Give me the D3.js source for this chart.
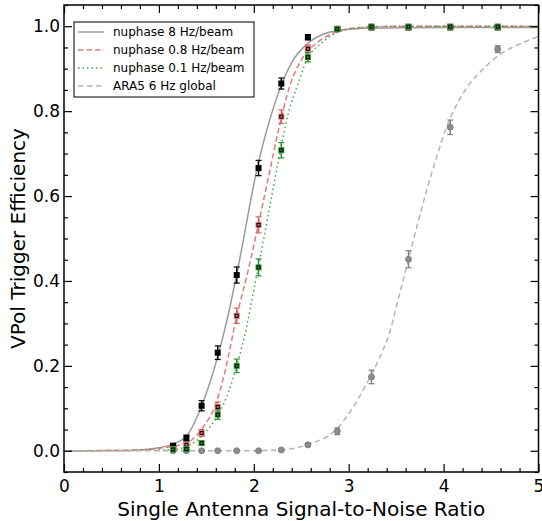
<!DOCTYPE html>
<html>
<head>
<meta charset="utf-8">
<script src="https://cdn.jsdelivr.net/npm/d3@7"></script>
<style>
    body { margin: 0; background: #fff; }
    svg { display: block; font-family: "DejaVu Sans", sans-serif; }
</style>
</head>
<body>
<svg id="chart" width="542" height="521"></svg>
<script>
// measured points (same SNR bins for every series)
var snr = [1.15, 1.29, 1.45, 1.62, 1.82, 2.05, 2.29, 2.57, 2.88, 3.24, 3.63, 4.07, 4.57];

var eff8Hz = [0.012, 0.03, 0.106, 0.231, 0.414, 0.666, 0.865, 0.974, 0.994, 0.997, 0.997, 0.997, 0.997];
var err8Hz = [0.004, 0.007, 0.012, 0.016, 0.019, 0.018, 0.013, 0.006, 0.003, 0.002, 0.002, 0.002, 0.002];

var eff08Hz = [0.004, 0.014, 0.042, 0.103, 0.318, 0.532, 0.787, 0.947, 0.993, 0.999, 0.999, 0.999, 0.999];
var err08Hz = [0.003, 0.005, 0.008, 0.012, 0.018, 0.019, 0.016, 0.009, 0.003, 0.001, 0.001, 0.001, 0.001];

var eff01Hz = [0.003, 0.004, 0.018, 0.085, 0.20, 0.432, 0.708, 0.927, 0.993, 0.999, 0.999, 0.999, 0.999];
var err01Hz = [0.002, 0.003, 0.005, 0.011, 0.016, 0.02, 0.018, 0.011, 0.003, 0.001, 0.001, 0.001, 0.001];

var effAra = [0.0, 0.0, 0.0, 0.0, 0.0, 0.0, 0.002, 0.014, 0.046, 0.174, 0.451, 0.762, 0.946];
var errAra = [0.001, 0.001, 0.001, 0.001, 0.001, 0.001, 0.002, 0.004, 0.008, 0.016, 0.02, 0.017, 0.008];

// fitted curves
var fit8HzX = [0, 0.5, 0.8, 1.0, 1.12, 1.29, 1.44, 1.63, 1.72, 1.82, 2.05, 2.21, 2.3, 2.4, 2.56, 2.73, 2.91, 3.2, 4.0, 5.0];
var fit8HzY = [0, 0.0005, 0.002, 0.007, 0.014, 0.034, 0.1, 0.23, 0.31, 0.415, 0.68, 0.81, 0.867, 0.915, 0.958, 0.981, 0.99, 0.995, 0.997, 0.997];

var fit08HzX = [0, 0.5, 0.8, 1.01, 1.29, 1.47, 1.59, 1.70, 1.82, 1.925, 2.05, 2.155, 2.26, 2.38, 2.505, 2.665, 2.81, 2.945, 3.3, 4.0, 5.0];
var fit08HzY = [0, 0.0005, 0.002, 0.006, 0.018, 0.057, 0.105, 0.19, 0.317, 0.41, 0.535, 0.645, 0.755, 0.86, 0.922, 0.961, 0.981, 0.992, 0.999, 1.0, 1.0];

var fit01HzX = [0, 0.8, 1.15, 1.36, 1.54, 1.65, 1.82, 1.925, 2.015, 2.07, 2.17, 2.26, 2.37, 2.47, 2.56, 2.70, 2.84, 3.0, 3.5, 5.0];
var fit01HzY = [0, 0.001, 0.003, 0.018, 0.057, 0.095, 0.199, 0.293, 0.396, 0.458, 0.578, 0.685, 0.80, 0.867, 0.922, 0.958, 0.981, 0.993, 1.0, 1.0];

var fitAraX = [0, 1.5, 2.0, 2.28, 2.56, 2.88, 3.03, 3.155, 3.30, 3.44, 3.525, 3.63, 3.72, 3.825, 3.93, 4.035, 4.155, 4.28, 4.42, 4.57, 4.8, 5.0];
var fitAraY = [0, 0, 0.0002, 0.002, 0.014, 0.053, 0.097, 0.144, 0.207, 0.285, 0.36, 0.45, 0.529, 0.616, 0.694, 0.765, 0.822, 0.866, 0.9, 0.93, 0.958, 0.976];

var legendLabels = ["nuphase 8 Hz/beam", "nuphase 0.8 Hz/beam", "nuphase 0.1 Hz/beam", "ARA5 6 Hz global"];

var xMajor = [0, 1, 2, 3, 4, 5];
var yMajor = [0, 0.2, 0.4, 0.6, 0.8, 1.0];

// styles for each series
var series = [
    {fx: fit8HzX, fy: fit8HzY, y: eff8Hz, e: err8Hz, line: "#9a9a9a", dash: null, bar: "#000", face: "#000", marker: "square"},
    {fx: fit08HzX, fy: fit08HzY, y: eff08Hz, e: err08Hz, line: "#e07b7b", dash: "5.5,3", bar: "#d86464", face: "#dc7272", marker: "square"},
    {fx: fit01HzX, fy: fit01HzY, y: eff01Hz, e: err01Hz, line: "#44a644", dash: "1.5,3", bar: "#2e8e2e", face: "#2e9a2e", marker: "square"},
    {fx: fitAraX, fy: fitAraY, y: effAra, e: errAra, line: "#b4b4b4", dash: "5.5,3.5", bar: "#808080", face: "#8c8c8c", marker: "circle"}
];

var margin = {left: 64, top: 5, right: 3.5, bottom: 49};
var width = 542 - margin.left - margin.right;
var height = 521 - margin.top - margin.bottom;

var x = d3.scaleLinear().domain([0, 5]).range([0, width]);
var y = d3.scaleLinear().domain([-0.05, 1.05]).range([height, 0]);

var svg = d3.select("#chart");
var chart = svg.append("g")
    .attr("transform", "translate(" + margin.left + "," + margin.top + ")");

// fit curves
var line = d3.line()
    .x(function (d) { return x(d[0]); })
    .y(function (d) { return y(d[1]); })
    .curve(d3.curveMonotoneX);

var plot = chart.append("g");
series.forEach(function (s) {
    plot.append("path")
        .datum(d3.zip(s.fx, s.fy))
        .attr("fill", "none")
        .attr("stroke", s.line)
        .attr("stroke-width", 1.5)
        .attr("stroke-dasharray", s.dash)
        .attr("d", line);
});

// points with error bars, drawn back to front
[3, 0, 1, 2].forEach(function (i) {
    var s = series[i];
    var pts = plot.append("g").selectAll("g")
        .data(d3.zip(snr, s.y, s.e))
        .enter()
        .append("g")
        .attr("transform", function (d) { return "translate(" + x(d[0]) + ",0)"; });

    pts.append("line")
        .attr("y1", function (d) { return y(d[1] - d[2]); })
        .attr("y2", function (d) { return y(d[1] + d[2]); })
        .attr("stroke", s.bar)
        .attr("stroke-width", 1.5);
    [-1, 1].forEach(function (sign) {
        pts.append("line")
            .attr("x1", -3).attr("x2", 3)
            .attr("y1", function (d) { return y(d[1] + sign * d[2]); })
            .attr("y2", function (d) { return y(d[1] + sign * d[2]); })
            .attr("stroke", s.bar)
            .attr("stroke-width", 1.2);
    });

    if (s.marker === "circle") {
        pts.append("circle")
            .attr("cy", function (d) { return y(d[1]); })
            .attr("r", 3)
            .attr("fill", s.face)
            .attr("stroke", "#777")
            .attr("stroke-width", 0.8);
    } else {
        pts.append("rect")
            .attr("x", -3).attr("width", 6).attr("height", 6)
            .attr("y", function (d) { return y(d[1]) - 3; })
            .attr("fill", s.face);
        if (i > 0) {
            pts.append("rect")
                .attr("x", -1.5).attr("width", 3).attr("height", 3)
                .attr("y", function (d) { return y(d[1]) - 1.5; })
                .attr("fill", "none")
                .attr("stroke", "#000")
                .attr("stroke-width", 1);
        }
    }
});

// axes, ticks inward on all four sides
function minorVals(step, lo, hi, major) {
    return d3.range(lo, hi + 1e-9, step).filter(function (v) {
        return !major.some(function (m) { return Math.abs(m - v) < 1e-6; });
    });
}
var xMinor = minorVals(0.2, 0, 5, xMajor);
var yMinor = minorVals(0.05, -0.05, 1.05, yMajor);

function addAxis(axis, tr, major, minor, labels, pad) {
    var g = chart.append("g").attr("transform", tr);
    g.call(axis(major).tickSizeInner(-8).tickSizeOuter(0).tickPadding(pad || 0)
        .tickFormat(labels || function () { return ""; }));
    g.append("g").call(axis(minor).tickSizeInner(-4).tickSizeOuter(0).tickFormat(function () { return ""; }));
    g.selectAll(".domain").remove();
    g.selectAll(".tick line").attr("stroke", "#000").attr("stroke-width", 1.2);
    g.selectAll(".tick text")
        .attr("fill", "#000")
        .style("font-size", "17px")
        .style("font-family", "DejaVu Sans, sans-serif");
    return g;
}

addAxis(function (v) { return d3.axisBottom(x).tickValues(v); }, "translate(0," + height + ")", xMajor, xMinor, d3.format("d"), 8);
addAxis(function (v) { return d3.axisTop(x).tickValues(v); }, "translate(0,0)", xMajor, xMinor, null);
addAxis(function (v) { return d3.axisLeft(y).tickValues(v); }, "translate(0,0)", yMajor, yMinor, d3.format(".1f"), 4);
addAxis(function (v) { return d3.axisRight(y).tickValues(v); }, "translate(" + width + ",0)", yMajor, yMinor, null);

chart.append("rect")
    .attr("width", width)
    .attr("height", height)
    .attr("fill", "none")
    .attr("stroke", "#000")
    .attr("stroke-width", 1.5);

// axis titles
svg.append("text")
    .attr("x", margin.left + width / 2)
    .attr("y", 516)
    .attr("text-anchor", "middle")
    .style("font-size", "20px")
    .text("Single Antenna Signal-to-Noise Ratio");

svg.append("text")
    .attr("transform", "translate(25," + (margin.top + height / 2) + ") rotate(-90)")
    .attr("text-anchor", "middle")
    .style("font-size", "20px")
    .text("VPol Trigger Efficiency");

// legend
var legend = svg.append("g").attr("transform", "translate(74,22)");
legend.append("rect")
    .attr("width", 180)
    .attr("height", 75)
    .attr("fill", "#fff")
    .attr("stroke", "#000")
    .attr("stroke-width", 1);

var rows = legend.selectAll(".row")
    .data(series)
    .enter()
    .append("g")
    .attr("class", "row")
    .attr("transform", function (d, i) { return "translate(0," + (10 + i * 18) + ")"; });

rows.append("line")
    .attr("x1", 4).attr("x2", 30)
    .attr("stroke", function (d) { return d.line; })
    .attr("stroke-width", 1.5)
    .attr("stroke-dasharray", function (d) { return d.dash; });

rows.append("text")
    .attr("x", 39)
    .attr("dy", "0.35em")
    .style("font-size", "12px")
    .text(function (d, i) { return legendLabels[i]; });
</script>
</body>
</html>
